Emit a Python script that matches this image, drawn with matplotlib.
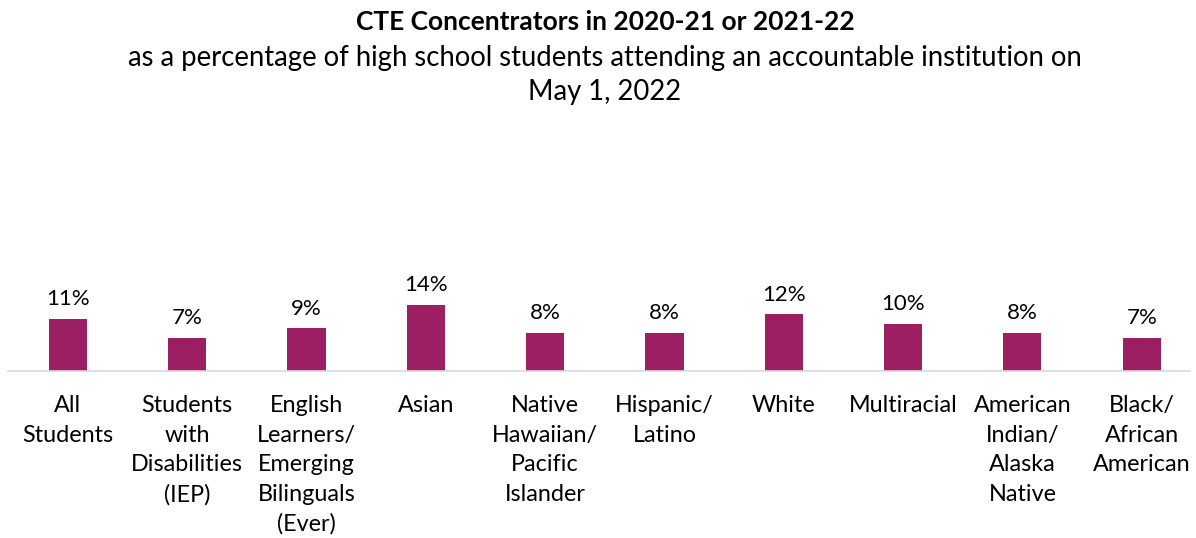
import matplotlib.pyplot as plt
import numpy as np

plt.rcParams['font.family'] = ['Lato', 'DejaVu Sans']

# CTE concentrators by student group, % of high school students
groups = ["All\nStudents", "Students\nwith\nDisabilities\n(IEP)",
          "English\nLearners/\nEmerging\nBilinguals\n(Ever)", "Asian",
          "Native\nHawaiian/\nPacific\nIslander", "Hispanic/\nLatino", "White",
          "Multiracial", "American\nIndian/\nAlaska\nNative", "Black/\nAfrican\nAmerican"]
pct = [11, 7, 9, 14, 8, 8, 12, 10, 8, 7]

bar_color = '#9B1F62'

fig = plt.figure(figsize=(11.96, 5.38), dpi=100)
W, H = 1196, 538
base_y = 370.7
px_per_pct = 4.7
top_val = 50
ax = fig.add_axes([8.3 / W, (H - base_y) / H, (1190 - 8.3) / W, top_val * px_per_pct / H])

x = np.arange(len(groups))
bars = ax.bar(x, pct, width=0.32, color=bar_color, zorder=2)
for xi, v in zip(x, pct):
    ax.annotate(f"{v}%", (xi, v), xytext=(0, 7), textcoords='offset points',
                ha='center', va='bottom', fontsize=16, color='#000000')

ax.set_xlim(-0.5, (1190 - 68) / 119.3)
ax.set_ylim(0, top_val)
ax.set_yticks([])
ax.set_xticks(x)
ax.set_xticklabels(groups, fontsize=16.8, linespacing=1.5, va='top')
ax.tick_params(axis='x', length=0, pad=17.5)
for s in ['top', 'right', 'left']:
    ax.spines[s].set_visible(False)
ax.spines['bottom'].set_color('#D9D9D9')
ax.spines['bottom'].set_linewidth(1.2)

cx = 605 / W
fig.text(cx, 1 - 22 / H, "CTE Concentrators in 2020-21 or 2021-22", ha='center', va='center',
         fontsize=19, fontweight='bold')
fig.text(cx, 1 - 58 / H, "as a percentage of high school students attending an accountable institution on",
         ha='center', va='center', fontsize=19.8)
fig.text(cx, 1 - 92 / H, "May 1, 2022", ha='center', va='center', fontsize=19.8)

fig.savefig('out.png', dpi=100)
